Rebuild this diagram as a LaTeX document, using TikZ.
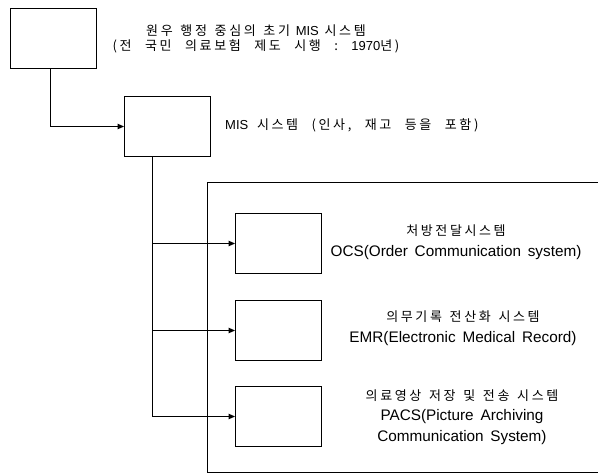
\documentclass[tikz,border=0pt]{standalone}
\usepackage{fontspec}
\setmainfont{Liberation Sans}[WordSpace=1.6]
\newfontfamily\kr{Noto Sans CJK KR}[LetterSpace=20,WordSpace=1.4]
\newcommand{\gap}{\hspace{13.5pt}}
\usetikzlibrary{arrows.meta}
\begin{document}
\begin{tikzpicture}[x=1pt,y=-1pt,
  ln/.style={line width=1pt},
  box/.style={draw, ln, anchor=north west, inner sep=0pt, minimum width=86pt, minimum height=60pt},
  arr/.style={ln, -{Triangle[length=6.5pt,width=5.5pt]}},
  ttl/.style={align=center, inner sep=0pt, font=\fontsize{13}{15}\selectfont},
  desc/.style={align=center, inner sep=0pt, font=\fontsize{15.3}{20.5}\selectfont}]
\useasboundingbox (0,0) rectangle (598,476);
% boxes
\node[box] (b1) at (10,8) {};
\node[box] (b2) at (124,96) {};
\node[box] (ocs) at (235,213) {};
\node[box] (emr) at (235,300) {};
\node[box] (pacs) at (235,386) {};
% container
\draw[ln] (598,183) -| (207,472) -- (598,472);
% connectors
\draw[arr] ([xshift=-3pt]b1.south) |- (b2.west);
\coordinate (bus) at ([xshift=-15pt]b2.south);
\draw[arr] (bus) |- (ocs.west);
\draw[arr] (bus) |- (emr.west);
\draw[arr] (bus) |- (pacs.west);
% texts
\node[ttl] (t1) at (256,39) {{\kr 원우 행정 중심의 초기} MIS {\kr 시스템}\\{\kr (전\gap 국민\gap 의료보험\gap 제도\gap 시행\gap :\gap}1970{\kr 년)}};
\node[ttl, anchor=west] (t2) at (225,125) {MIS\hspace{3pt} {\kr 시스템\gap (인사,\gap 재고\gap 등을\gap 포함)}};
\node[desc] (t3) at (456,242) {{\kr\fontsize{13}{13}\selectfont 처방전달시스템}\\OCS(Order Communication system)};
\node[desc] (t4) at (463,328) {{\kr\fontsize{13}{13}\selectfont 의무기록 전산화 시스템}\\EMR(Electronic Medical Record)};
\node[desc] (t5) at (462,417) {{\kr\fontsize{13}{13}\selectfont 의료영상 저장 및 전송 시스템}\\PACS(Picture Archiving\\Communication System)};
\end{tikzpicture}
\end{document}
